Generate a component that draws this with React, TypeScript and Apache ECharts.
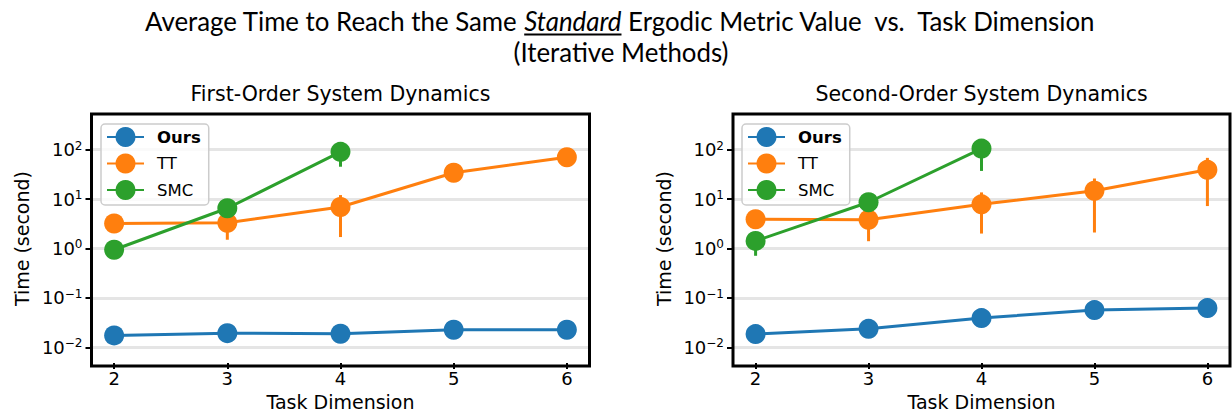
import React, { useEffect, useRef } from "react";
import * as echarts from "echarts";

// ---------- data ----------
const dims = [2, 3, 4, 5, 6];
const smcDims = [2, 3, 4];
const yTicks = [0.01, 0.1, 1, 10, 100];
const xTicks = [2, 3, 4, 5, 6];

// First-Order System Dynamics
const oursFirst = [0.0174, 0.0193, 0.0188, 0.0226, 0.0226];
const ttFirst = [3.2, 3.3, 6.9, 34, 70];
const ttFirstLo = [2.9, 1.5, 1.7, 30, 62];
const ttFirstHi = [3.5, 4.5, 12, 39, 80];
const smcFirst = [0.94, 6.5, 90];
const smcFirstLo = [0.85, 5.2, 45];
const smcFirstHi = [1.05, 8, 110];

// Second-Order System Dynamics
const oursSecond = [0.0185, 0.0236, 0.039, 0.0567, 0.062];
const ttSecond = [3.9, 3.8, 7.8, 14.7, 39];
const ttSecondLo = [3.5, 1.4, 2.0, 2.1, 7.2];
const ttSecondHi = [4.4, 5.5, 13.6, 26, 68];
const smcSecond = [1.42, 8.6, 105];
const smcSecondLo = [0.71, 2.8, 37];
const smcSecondHi = [2.0, 12, 130];

const titleA = "Average Time to Reach the Same ";
const titleB = "Standard";
const titleC = " Ergodic Metric Value  vs.  Task Dimension";
const titleLine2 = "(Iterative Methods)";
const subTitles = ["First-Order System Dynamics", "Second-Order System Dynamics"];

// ---------- style ----------
const FONT = "'DejaVu Sans', sans-serif";
const C_OURS = "#1f77b4";
const C_TT = "#ff7f0e";
const C_SMC = "#2ca02c";

function pairs(xs: number[], ys: number[]) {
  return xs.map((x, i) => [x, ys[i]]);
}
function triples(xs: number[], lo: number[], hi: number[]) {
  return xs.map((x, i) => [x, lo[i], hi[i]]);
}

function measure(text: string, font: string) {
  const c = document.createElement("canvas");
  const ctx = c.getContext("2d")!;
  ctx.font = font;
  return ctx.measureText(text).width;
}

function supFormatter(v: number) {
  const e = Math.round(Math.log10(v));
  const s = e < 0 ? "\u2212" + -e : String(e);
  return `{b|10}{s|${s}}`;
}

function errSeries(name: string, color: string, data: number[][], idx: number) {
  return {
    type: "custom",
    name,
    xAxisIndex: idx,
    yAxisIndex: idx,
    data,
    encode: { x: 0, y: [1, 2] },
    silent: true,
    renderItem: (_p: any, api: any) => {
      const x = api.value(0);
      const a = api.coord([x, api.value(1)]);
      const b = api.coord([x, api.value(2)]);
      return {
        type: "line",
        shape: { x1: a[0], y1: a[1], x2: b[0], y2: b[1] },
        style: { stroke: color, lineWidth: 3 },
      };
    },
  };
}

function lineSeries(name: string, color: string, data: number[][], idx: number) {
  return {
    type: "line",
    name,
    xAxisIndex: idx,
    yAxisIndex: idx,
    data,
    symbol: "circle",
    symbolSize: 20,
    showSymbol: true,
    lineStyle: { color, width: 3 },
    itemStyle: { color },
    emphasis: { disabled: true },
    clip: false,
  };
}

export default function App() {
  const ref = useRef<HTMLDivElement>(null);

  useEffect(() => {
    const el = ref.current!;
    const chart = echarts.init(el, null, { renderer: "svg" });

    // main title layout
    const tSize = 26.5;
    const wA = measure(titleA, `${tSize}px Lato`);
    const wB = measure(titleB, `italic ${tSize}px Lato`);
    const wC = measure(titleC, `${tSize}px Lato`);
    const targetW = 952;
    const sc = targetW / (wA + wB + wC);
    const x0 = 621 - targetW / 2;
    const tY = 21;

    const grids = [
      { left: 91.5, top: 114, width: 498, height: 252 },
      { left: 733, top: 114, width: 497, height: 252 },
    ];

    const xAxes = grids.map((_, i) => ({
      type: "value",
      gridIndex: i,
      min: 1.8,
      max: 6.2,
      axisLine: { show: false },
      axisTick: {
        show: true,
        length: 6,
        lineStyle: { color: "#000", width: 2 },
        customValues: xTicks,
      },
      axisLabel: {
        customValues: xTicks,
        fontFamily: FONT,
        fontSize: 18,
        color: "#000",
        margin: 6,
      },
      splitLine: { show: false },
      name: "Task Dimension",
      nameLocation: "middle",
      nameGap: 28,
      nameTextStyle: { fontFamily: FONT, fontSize: 19, color: "#000" },
    }));

    const yAxes = grids.map((_, i) => ({
      type: "log",
      logBase: 10,
      gridIndex: i,
      min: Math.pow(10, -2.32),
      max: Math.pow(10, 2.72),
      axisLine: { show: false },
      axisTick: {
        show: true,
        length: 6,
        lineStyle: { color: "#000", width: 2 },
        customValues: yTicks,
      },
      minorTick: { show: false },
      axisLabel: {
        customValues: yTicks,
        formatter: supFormatter,
        margin: 9,
        rich: {
          b: { fontFamily: FONT, fontSize: 18, color: "#000", lineHeight: 20 },
          s: { fontFamily: FONT, fontSize: 12, color: "#000", lineHeight: 12, verticalAlign: "top" },
        },
      },
      splitLine: { show: true, lineStyle: { color: "#e5e5e5", width: 3 } },
      name: "Time (second)",
      nameLocation: "middle",
      nameGap: 60,
      nameTextStyle: { fontFamily: FONT, fontSize: 19, color: "#000" },
    }));

    const legends = [101, 742].map((left) => ({
      data: ["Ours", "TT", "SMC"],
      orient: "vertical",
      left,
      top: 124,
      itemWidth: 37,
      itemHeight: 25,
      itemGap: 6.5,
      padding: [3, 8, 5, 5],
      backgroundColor: "rgba(255,255,255,0.8)",
      borderColor: "#cccccc",
      borderWidth: 1.5,
      borderRadius: 4,
      selectedMode: false,
      formatter: (n: string) => (n === "Ours" ? "{b|Ours}" : n),
      textStyle: {
        fontFamily: FONT,
        fontSize: 16.5,
        color: "#000",
        padding: [0, 0, 0, 8],
        rich: { b: { fontFamily: FONT, fontSize: 16.5, fontWeight: "bold", color: "#000" } },
      },
    }));

    const series: any[] = [];
    const sets = [
      { ours: oursFirst, tt: ttFirst, ttLo: ttFirstLo, ttHi: ttFirstHi, smc: smcFirst, smcLo: smcFirstLo, smcHi: smcFirstHi },
      { ours: oursSecond, tt: ttSecond, ttLo: ttSecondLo, ttHi: ttSecondHi, smc: smcSecond, smcLo: smcSecondLo, smcHi: smcSecondHi },
    ];
    sets.forEach((s, i) => {
      series.push(lineSeries("Ours", C_OURS, pairs(dims, s.ours), i));
      series.push(errSeries("tt-err", C_TT, triples(dims, s.ttLo, s.ttHi), i));
      series.push(lineSeries("TT", C_TT, pairs(dims, s.tt), i));
      series.push(errSeries("smc-err", C_SMC, triples(smcDims, s.smcLo, s.smcHi), i));
      series.push(lineSeries("SMC", C_SMC, pairs(smcDims, s.smc), i));
    });

    const graphic: any[] = [
      {
        type: "text",
        x: x0,
        y: tY,
        scaleX: sc,
        style: { text: titleA, font: `${tSize}px Lato`, fill: "#000", align: "left", verticalAlign: "middle" },
      },
      {
        type: "text",
        x: x0 + wA * sc,
        y: tY,
        scaleX: sc,
        style: { text: titleB, font: `italic ${tSize}px Lato`, fill: "#000", align: "left", verticalAlign: "middle" },
      },
      {
        type: "line",
        shape: { x1: x0 + wA * sc, y1: 34.5, x2: x0 + (wA + wB) * sc, y2: 34.5 },
        style: { stroke: "#000", lineWidth: 2 },
      },
      {
        type: "text",
        x: x0 + (wA + wB) * sc,
        y: tY,
        scaleX: sc,
        style: { text: titleC, font: `${tSize}px Lato`, fill: "#000", align: "left", verticalAlign: "middle" },
      },
      {
        type: "text",
        x: 621,
        y: 52,
        scaleX: sc,
        style: { text: titleLine2, font: `${tSize}px Lato`, fill: "#000", align: "center", verticalAlign: "middle" },
      },
      ...subTitles.map((t, i) => ({
        type: "text",
        x: grids[i].left + grids[i].width / 2,
        y: 94,
        style: { text: t, font: `20.5px 'DejaVu Sans'`, fill: "#000", align: "center", verticalAlign: "middle" },
      })),
      ...grids.map((g) => ({
        type: "rect",
        shape: { x: g.left, y: g.top, width: g.width, height: g.height },
        style: { fill: "none", stroke: "#000", lineWidth: 3 },
        z: 10,
        silent: true,
      })),
    ];

    chart.setOption({
      animation: false,
      backgroundColor: "#fff",
      grid: grids.map((g) => ({ ...g, containLabel: false })),
      xAxis: xAxes,
      yAxis: yAxes,
      legend: legends,
      series,
      graphic,
    });

    return () => chart.dispose();
  }, []);

  return (
    <div
      ref={ref}
      style={{ position: "fixed", left: 0, top: 0, width: 1232, height: 416 }}
    />
  );
}
